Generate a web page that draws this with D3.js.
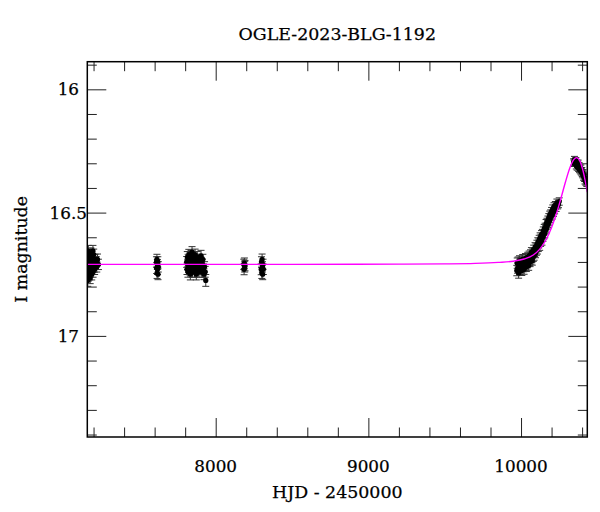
<!DOCTYPE html>
<html lang="en">
<head>
<meta charset="UTF-8">
<title>OGLE-2023-BLG-1192</title>
<script src="https://d3js.org/d3.v7.min.js"></script>
<style>
    body { margin: 0; background: #fff; }
    svg { display: block; }
    text { font-family: 'DejaVu Serif', 'Liberation Serif', serif; fill: #000; stroke: #000; stroke-width: 0.25; }
</style>
</head>
<body>
<div id="chart"></div>
<script>
const title = "OGLE-2023-BLG-1192";
const xLabel = "HJD - 2450000";
const yLabel = "I magnitude";
const xDomain = [7159, 10434];
const yDomain = [15.888, 17.41];
const xMajorTicks = [8000, 9000, 10000];
const yMajorTicks = [16, 16.5, 17];

// OGLE I-band points per season: [HJD - 2450000, mag, error]
const season2016 = [
    [7162, 16.775, 0.024], [7163, 16.72, 0.022], [7164, 16.69, 0.021], [7165, 16.755, 0.023],
    [7166, 16.655, 0.022], [7167, 16.71, 0.022], [7168, 16.67, 0.021], [7170, 16.73, 0.022],
    [7171, 16.70, 0.020], [7173, 16.75, 0.023], [7174, 16.68, 0.021], [7176, 16.72, 0.022],
    [7177, 16.74, 0.022], [7178, 16.765, 0.023], [7179, 16.69, 0.021], [7181, 16.71, 0.020],
    [7182, 16.665, 0.022], [7184, 16.73, 0.022], [7186, 16.70, 0.021], [7188, 16.75, 0.023],
    [7189, 16.68, 0.021], [7191, 16.72, 0.022], [7193, 16.71, 0.020], [7195, 16.69, 0.021],
    [7196, 16.655, 0.022], [7197, 16.74, 0.022], [7199, 16.70, 0.021], [7201, 16.67, 0.022],
    [7204, 16.72, 0.022], [7207, 16.73, 0.021], [7210, 16.69, 0.021], [7213, 16.71, 0.020],
    [7217, 16.70, 0.022], [7221, 16.72, 0.021], [7226, 16.69, 0.022], [7232, 16.71, 0.021]
];
const season2017 = [
    [7612, 16.70, 0.021], [7613, 16.725, 0.022], [7615, 16.69, 0.021], [7616, 16.745, 0.022],
    [7618, 16.71, 0.020], [7619, 16.73, 0.021], [7621, 16.70, 0.021], [7622, 16.75, 0.022],
    [7624, 16.72, 0.021]
];
const season2018 = [
    [7810, 16.70, 0.022], [7812, 16.73, 0.021], [7814, 16.68, 0.022], [7816, 16.71, 0.021],
    [7818, 16.74, 0.022], [7820, 16.69, 0.021], [7822, 16.72, 0.022], [7824, 16.67, 0.021],
    [7826, 16.70, 0.020], [7828, 16.73, 0.022], [7830, 16.71, 0.021], [7832, 16.68, 0.021],
    [7834, 16.75, 0.023], [7836, 16.70, 0.021], [7838, 16.675, 0.022], [7840, 16.72, 0.021],
    [7842, 16.69, 0.021], [7845, 16.66, 0.022], [7847, 16.74, 0.022], [7849, 16.71, 0.021],
    [7851, 16.68, 0.021], [7853, 16.73, 0.022], [7855, 16.70, 0.020], [7857, 16.72, 0.021],
    [7859, 16.69, 0.021], [7861, 16.74, 0.022], [7863, 16.71, 0.021], [7865, 16.67, 0.022],
    [7867, 16.73, 0.021], [7869, 16.70, 0.021], [7871, 16.72, 0.021], [7873, 16.75, 0.023],
    [7875, 16.69, 0.021], [7877, 16.71, 0.020], [7879, 16.68, 0.022], [7881, 16.73, 0.021],
    [7884, 16.70, 0.021], [7887, 16.72, 0.021], [7890, 16.74, 0.022], [7893, 16.69, 0.021],
    [7896, 16.71, 0.021], [7899, 16.73, 0.022], [7902, 16.70, 0.021], [7904, 16.675, 0.022],
    [7907, 16.72, 0.021], [7910, 16.74, 0.022], [7913, 16.71, 0.021], [7916, 16.69, 0.021],
    [7919, 16.73, 0.022], [7923, 16.75, 0.022], [7927, 16.72, 0.021], [7931, 16.74, 0.022],
    [7935, 16.775, 0.024]
];
const season2019 = [
    [8184, 16.71, 0.021], [8186, 16.73, 0.022], [8188, 16.705, 0.021], [8190, 16.72, 0.021],
    [8192, 16.715, 0.021]
];
const season2020 = [
    [8298, 16.73, 0.022], [8300, 16.70, 0.021], [8302, 16.745, 0.022], [8304, 16.69, 0.022],
    [8306, 16.72, 0.021], [8308, 16.75, 0.022], [8310, 16.71, 0.021], [8312, 16.73, 0.021]
];
const season2023 = [
    [9972, 16.735, 0.021], [9975, 16.705, 0.021], [9978, 16.725, 0.021], [9981, 16.70, 0.020],
    [9984, 16.745, 0.021], [9987, 16.715, 0.020], [9990, 16.695, 0.020], [9993, 16.73, 0.021],
    [9996, 16.71, 0.020], [9999, 16.725, 0.020], [10002, 16.70, 0.020], [10005, 16.735, 0.020],
    [10008, 16.715, 0.020], [10011, 16.69, 0.020], [10014, 16.72, 0.020], [10017, 16.705, 0.020],
    [10020, 16.73, 0.020], [10023, 16.695, 0.019], [10026, 16.715, 0.019], [10029, 16.685, 0.019],
    [10032, 16.71, 0.019], [10035, 16.72, 0.019], [10038, 16.69, 0.019], [10041, 16.705, 0.019],
    [10044, 16.68, 0.019], [10047, 16.70, 0.019], [10050, 16.715, 0.019], [10053, 16.675, 0.019],
    [10056, 16.695, 0.019], [10059, 16.70, 0.019], [10062, 16.67, 0.019], [10065, 16.69, 0.019],
    [10068, 16.66, 0.018], [10071, 16.685, 0.018], [10074, 16.695, 0.018], [10077, 16.665, 0.018],
    [10080, 16.68, 0.018], [10083, 16.65, 0.018], [10086, 16.675, 0.018], [10089, 16.66, 0.018],
    [10092, 16.64, 0.018], [10095, 16.665, 0.018], [10098, 16.645, 0.018], [10101, 16.655, 0.018],
    [10104, 16.63, 0.018], [10107, 16.65, 0.018], [10110, 16.62, 0.018], [10113, 16.64, 0.018],
    [10116, 16.625, 0.018], [10119, 16.61, 0.018], [10122, 16.635, 0.018], [10125, 16.60, 0.018],
    [10128, 16.62, 0.017], [10131, 16.605, 0.017], [10134, 16.59, 0.017], [10137, 16.615, 0.017],
    [10140, 16.585, 0.017], [10143, 16.60, 0.017], [10146, 16.575, 0.017], [10149, 16.59, 0.017],
    [10152, 16.565, 0.017], [10155, 16.585, 0.017], [10158, 16.56, 0.017], [10161, 16.57, 0.017],
    [10164, 16.545, 0.017], [10167, 16.565, 0.017], [10170, 16.54, 0.017], [10173, 16.55, 0.017],
    [10176, 16.53, 0.016], [10179, 16.545, 0.016], [10182, 16.52, 0.016], [10185, 16.535, 0.016],
    [10188, 16.51, 0.016], [10191, 16.525, 0.016], [10194, 16.505, 0.016], [10197, 16.515, 0.016],
    [10200, 16.495, 0.016], [10204, 16.51, 0.016], [10208, 16.485, 0.016], [10212, 16.50, 0.016],
    [10216, 16.475, 0.015], [10220, 16.49, 0.015], [10225, 16.47, 0.015], [10230, 16.48, 0.015],
    [10235, 16.46, 0.015], [10240, 16.47, 0.015], [10245, 16.465, 0.015], [10250, 16.455, 0.015]
];
const season2024 = [
    [10344, 16.295, 0.013], [10347, 16.30, 0.013], [10350, 16.285, 0.013], [10353, 16.295, 0.013],
    [10356, 16.30, 0.013], [10359, 16.29, 0.013], [10362, 16.31, 0.013], [10365, 16.30, 0.013],
    [10368, 16.315, 0.013], [10371, 16.305, 0.013], [10374, 16.30, 0.013], [10377, 16.32, 0.013],
    [10380, 16.31, 0.013], [10383, 16.325, 0.013], [10386, 16.32, 0.013], [10389, 16.33, 0.013],
    [10392, 16.32, 0.013], [10395, 16.335, 0.013], [10398, 16.33, 0.013], [10401, 16.34, 0.014],
    [10404, 16.345, 0.014], [10407, 16.34, 0.014], [10410, 16.355, 0.014], [10413, 16.35, 0.014],
    [10416, 16.36, 0.014], [10419, 16.37, 0.014], [10422, 16.36, 0.014], [10425, 16.375, 0.014],
    [10428, 16.37, 0.014], [10431, 16.38, 0.014]
];
const seasons = [season2016, season2017, season2018, season2019, season2020, season2023, season2024];

// model curve: [HJD - 2450000, mag]
const model = [
    [7159, 16.710], [8500, 16.710], [9200, 16.709], [9500, 16.708], [9700, 16.706],
    [9850, 16.702], [9950, 16.697], [10020, 16.688], [10080, 16.672], [10120, 16.650],
    [10160, 16.614], [10200, 16.560], [10230, 16.508], [10260, 16.445], [10290, 16.378],
    [10320, 16.318], [10345, 16.285], [10365, 16.277], [10385, 16.290], [10405, 16.328],
    [10420, 16.370], [10434, 16.417]
];

const width = 600, height = 512;
const margin = { top: 61.7, right: 12.7, bottom: 75, left: 87.3 };
const plotW = width - margin.left - margin.right;
const plotH = height - margin.top - margin.bottom;

const svg = d3.select("#chart").append("svg")
    .attr("width", width)
    .attr("height", height);

const x = d3.scaleLinear().domain(xDomain).range([0, plotW]);
const y = d3.scaleLinear().domain(yDomain).range([0, plotH]);

svg.append("defs").append("clipPath").attr("id", "clip")
    .append("rect").attr("width", plotW).attr("height", plotH);

const g = svg.append("g").attr("transform", `translate(${margin.left},${margin.top})`);

// ticks, inward on all four sides
const xMinor = d3.range(7200, 10500, 200).filter(v => !xMajorTicks.includes(v));
const yMinor = d3.range(15.9, 17.45, 0.1).map(v => +v.toFixed(1)).filter(v => !yMajorTicks.includes(v));

function tickAxis(axisFn, scale, values, size, transform) {
    const a = g.append("g").attr("transform", transform)
        .call(axisFn(scale).tickValues(values).tickSize(size).tickFormat(""));
    a.select(".domain").remove();
    a.selectAll("line").attr("stroke", "#222").attr("stroke-width", 1);
}
tickAxis(d3.axisBottom, x, xMinor, -9.5, `translate(0,${plotH})`);
tickAxis(d3.axisBottom, x, xMajorTicks, -19, `translate(0,${plotH})`);
tickAxis(d3.axisTop, x, xMinor, -9.5, "translate(0,0)");
tickAxis(d3.axisTop, x, xMajorTicks, -19, "translate(0,0)");
tickAxis(d3.axisLeft, y, yMinor, -9.5, "translate(0,0)");
tickAxis(d3.axisLeft, y, yMajorTicks, -19, "translate(0,0)");
tickAxis(d3.axisRight, y, yMinor, -9.5, `translate(${plotW},0)`);
tickAxis(d3.axisRight, y, yMajorTicks, -19, `translate(${plotW},0)`);

// data with error bars
const pts = seasons.flat();
const plot = g.append("g").attr("clip-path", "url(#clip)");

const eb = plot.append("g").attr("stroke", "#333").attr("stroke-width", 1);
eb.selectAll("line.bar").data(pts).join("line").attr("class", "bar")
    .attr("x1", d => x(d[0])).attr("x2", d => x(d[0]))
    .attr("y1", d => y(d[1] - d[2])).attr("y2", d => y(d[1] + d[2]));
eb.selectAll("line.capTop").data(pts).join("line").attr("class", "capTop")
    .attr("x1", d => x(d[0]) - 3.5).attr("x2", d => x(d[0]) + 3.5)
    .attr("y1", d => y(d[1] - d[2])).attr("y2", d => y(d[1] - d[2]));
eb.selectAll("line.capBot").data(pts).join("line").attr("class", "capBot")
    .attr("x1", d => x(d[0]) - 3.5).attr("x2", d => x(d[0]) + 3.5)
    .attr("y1", d => y(d[1] + d[2])).attr("y2", d => y(d[1] + d[2]));

plot.append("g").selectAll("circle").data(pts).join("circle")
    .attr("cx", d => x(d[0]))
    .attr("cy", d => y(d[1]))
    .attr("r", 2.6)
    .attr("fill", "#000");

// model
plot.append("path")
    .datum(model)
    .attr("fill", "none")
    .attr("stroke", "#ff00ff")
    .attr("stroke-width", 1.4)
    .attr("d", d3.line().x(d => x(d[0])).y(d => y(d[1])).curve(d3.curveMonotoneX));

// frame
g.append("rect")
    .attr("width", plotW).attr("height", plotH)
    .attr("fill", "none").attr("stroke", "#000").attr("stroke-width", 1.5);

// tick labels
g.append("g").selectAll("text").data(xMajorTicks).join("text")
    .attr("x", d => x(d)).attr("y", plotH + 35)
    .attr("text-anchor", "middle").attr("font-size", 16.8)
    .text(d => d);
g.append("g").selectAll("text").data(yMajorTicks).join("text")
    .attr("x", -19).attr("y", d => y(d) + 6)
    .attr("text-anchor", "middle").attr("font-size", 16.8)
    .text(d => d);

// titles
svg.append("text")
    .attr("x", margin.left + plotW / 2).attr("y", 40)
    .attr("text-anchor", "middle").attr("font-size", 17.4)
    .text(title);
svg.append("text")
    .attr("x", margin.left + plotW / 2).attr("y", 498)
    .attr("text-anchor", "middle").attr("font-size", 17.4)
    .text(xLabel);
svg.append("text")
    .attr("transform", `translate(27,${margin.top + plotH / 2}) rotate(-90)`)
    .attr("text-anchor", "middle").attr("font-size", 17.4)
    .text(yLabel);
</script>
</body>
</html>
